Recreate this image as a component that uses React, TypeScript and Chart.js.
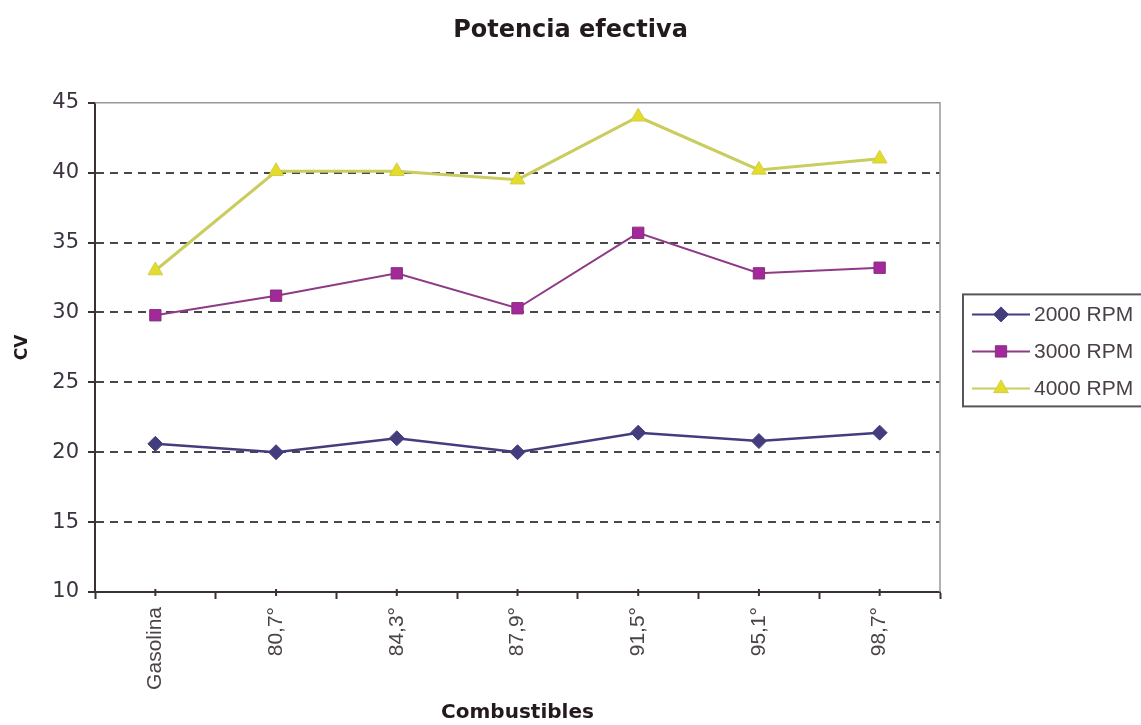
import { useEffect, useRef } from 'react';
import { Chart, registerables } from 'chart.js';

Chart.register(...registerables);

// Effective power (CV) per fuel at three engine speeds
const combustibles = ['Gasolina', '80,7°', '84,3°', '87,9°', '91,5°', '95,1°', '98,7°'];
const rpm2000 = [20.6, 20.0, 21.0, 20.0, 21.4, 20.8, 21.4];
const rpm3000 = [29.8, 31.2, 32.8, 30.3, 35.7, 32.8, 33.2];
const rpm4000 = [33.0, 40.1, 40.1, 39.5, 44.0, 40.2, 41.0];
const seriesNames = ['2000 RPM', '3000 RPM', '4000 RPM'];
const yTicks = [10, 15, 20, 25, 30, 35, 40, 45];

const AXIS = '#3b3038';
const TEXT = '#231a20';

type Marker = 'rectRot' | 'rect' | 'triangle';

function drawMarker(ctx: CanvasRenderingContext2D, kind: Marker, x: number, y: number, r: number, fill: string, stroke: string) {
  ctx.save();
  ctx.beginPath();
  if (kind === 'rectRot') {
    ctx.moveTo(x - r, y);
    ctx.lineTo(x, y - r);
    ctx.lineTo(x + r, y);
    ctx.lineTo(x, y + r);
  } else if (kind === 'rect') {
    const s = r * Math.SQRT1_2;
    ctx.rect(x - s, y - s, 2 * s, 2 * s);
  } else {
    const h = r * 1.5;
    const w = r * Math.sqrt(3) / 2;
    ctx.moveTo(x, y - r);
    ctx.lineTo(x + w, y - r + h);
    ctx.lineTo(x - w, y - r + h);
  }
  ctx.closePath();
  ctx.fillStyle = fill;
  ctx.fill();
  ctx.lineWidth = 1;
  ctx.strokeStyle = stroke;
  ctx.stroke();
  ctx.restore();
}

// Light frame on the top and right of the plot area
const framePlugin = {
  id: 'plotFrame',
  beforeDatasetsDraw(chart: any) {
    const { ctx, chartArea } = chart;
    ctx.save();
    ctx.strokeStyle = '#9a979a';
    ctx.lineWidth = 1.5;
    ctx.beginPath();
    ctx.moveTo(chartArea.left, chartArea.top);
    ctx.lineTo(chartArea.right, chartArea.top);
    ctx.lineTo(chartArea.right, chartArea.bottom);
    ctx.stroke();
    ctx.restore();
  },
};

// Small ticks at each category centre on the x axis
const centerTickPlugin = {
  id: 'centerTicks',
  afterDraw(chart: any) {
    const { ctx } = chart;
    const xs = chart.scales.x;
    ctx.save();
    ctx.strokeStyle = AXIS;
    ctx.lineWidth = 2;
    combustibles.forEach((_, i) => {
      const x = xs.getPixelForValue(i);
      ctx.beginPath();
      ctx.moveTo(x, xs.top - 3);
      ctx.lineTo(x, xs.top + 4);
      ctx.stroke();
    });
    ctx.restore();
  },
};

// Boxed legend to the right of the plot with line + marker samples
const sideLegendPlugin = {
  id: 'sideLegend',
  afterDraw(chart: any) {
    const { ctx, chartArea } = chart;
    const left = chartArea.right + 23;
    const mid = (chartArea.top + chartArea.bottom) / 2;
    const top = mid - 53;
    const bottom = mid + 59;
    const right = chart.width + 4;
    ctx.save();
    ctx.strokeStyle = '#5a555a';
    ctx.lineWidth = 2;
    ctx.strokeRect(left, top, right - left, bottom - top);
    chart.data.datasets.forEach((ds: any, i: number) => {
      const y = top + 20 + i * 37;
      ctx.strokeStyle = ds.borderColor;
      ctx.lineWidth = 2;
      ctx.beginPath();
      ctx.moveTo(left + 9, y);
      ctx.lineTo(left + 67, y);
      ctx.stroke();
      drawMarker(ctx, ds.pointStyle, left + 38, y, ds.pointRadius, ds.pointBackgroundColor, ds.pointBorderColor);
      ctx.fillStyle = '#4a4048';
      ctx.font = '21px "Liberation Sans"';
      ctx.textAlign = 'left';
      ctx.textBaseline = 'middle';
      ctx.fillText(ds.label, left + 71, y + 1);
    });
    ctx.restore();
  },
};

export default function App() {
  const canvasRef = useRef<HTMLCanvasElement | null>(null);

  useEffect(() => {
    document.body.style.margin = '0';
    const canvas = canvasRef.current;
    if (!canvas) return;
    const chart = new Chart(canvas, {
      type: 'line',
      data: {
        labels: combustibles,
        datasets: [
          {
            label: seriesNames[0],
            data: rpm2000,
            borderColor: '#433d7e',
            borderWidth: 2.5,
            pointStyle: 'rectRot',
            pointRadius: 7.5,
            pointBackgroundColor: '#433d7e',
            pointBorderColor: '#433d7e',
            pointBorderWidth: 1,
            tension: 0,
          },
          {
            label: seriesNames[1],
            data: rpm3000,
            borderColor: '#8e3a86',
            borderWidth: 2,
            pointStyle: 'rect',
            pointRadius: 8,
            pointBackgroundColor: '#a3289a',
            pointBorderColor: '#86307e',
            pointBorderWidth: 1,
            tension: 0,
          },
          {
            label: seriesNames[2],
            data: rpm4000,
            borderColor: '#c9cd5e',
            borderWidth: 3,
            pointStyle: 'triangle',
            pointRadius: 8.5,
            pointBackgroundColor: '#e3dc2c',
            pointBorderColor: '#d2cf44',
            pointBorderWidth: 1,
            tension: 0,
          },
        ],
      },
      options: {
        responsive: false,
        devicePixelRatio: 1,
        animation: false,
        events: [],
        layout: { padding: 0 },
        plugins: {
          legend: { display: false },
          tooltip: { enabled: false },
          title: {
            display: true,
            text: 'Potencia efectiva',
            color: TEXT,
            font: { family: 'DejaVu Sans', weight: 'bold', size: 24 },
            padding: { top: 16, bottom: 58 },
          },
        },
        scales: {
          x: {
            type: 'category',
            offset: true,
            grid: {
              offset: true,
              drawOnChartArea: false,
              drawTicks: true,
              tickLength: 7,
              tickColor: AXIS,
              tickWidth: 2,
            },
            border: { color: AXIS, width: 2 },
            ticks: {
              autoSkip: false,
              maxRotation: 90,
              minRotation: 90,
              padding: 8,
              color: '#4a4348',
              font: { family: 'Liberation Sans', size: 21 },
            },
            title: {
              display: true,
              text: 'Combustibles',
              color: TEXT,
              font: { family: 'DejaVu Sans', weight: 'bold', size: 20 },
              padding: { top: 0, bottom: 0 },
            },
            afterFit(scale: any) {
              scale.height = 133;
            },
          },
          y: {
            min: 10,
            max: 45,
            afterBuildTicks(scale: any) {
              scale.ticks = yTicks.map((v) => ({ value: v }));
            },
            grid: {
              color: (c: any) =>
                c.tick && (c.tick.value === 10 || c.tick.value === 45) ? 'rgba(0,0,0,0)' : '#4a474a',
              lineWidth: 2,
              drawTicks: true,
              tickLength: 7,
              tickColor: AXIS,
              tickWidth: 2,
            },
            border: { color: AXIS, width: 2, dash: [8, 6] },
            ticks: {
              padding: 9,
              color: '#3b3340',
              font: { family: 'DejaVu Sans', size: 21 },
            },
            title: {
              display: true,
              text: 'CV',
              color: TEXT,
              font: { family: 'DejaVu Sans', weight: 'bold', size: 17 },
              padding: { top: 12, bottom: 0 },
            },
            afterFit(scale: any) {
              scale.width = 95;
            },
          },
          // reserved space on the right for the legend box
          legendSpace: {
            type: 'linear',
            position: 'right',
            display: true,
            grid: { display: false, drawTicks: false },
            border: { display: false },
            ticks: { display: false },
            afterFit(scale: any) {
              scale.width = 201;
            },
          },
        },
      },
      plugins: [framePlugin, centerTickPlugin, sideLegendPlugin],
    });
    return () => chart.destroy();
  }, []);

  return <canvas ref={canvasRef} width={1141} height={725} style={{ display: 'block' }} />;
}
